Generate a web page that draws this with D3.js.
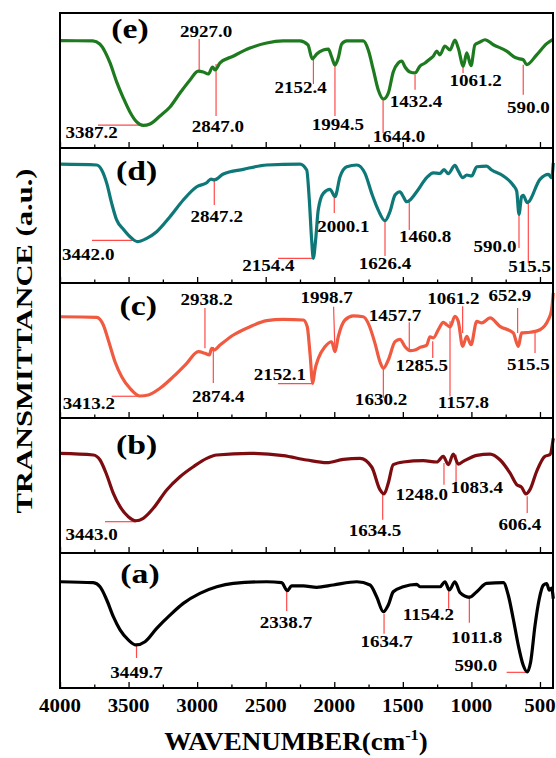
<!DOCTYPE html>
<html>
<head>
<meta charset="utf-8">
<script src="https://cdn.jsdelivr.net/npm/d3@7"></script>
<style>
body { margin: 0; background: #fff; }
</style>
</head>
<body>
<script>
var width = 556, height = 758;
var plotLeft = 60, plotRight = 553, plotTop = 13, panelH = 135;
var serif = '"Liberation Serif", "Times New Roman", serif';

// spectra, [wavenumber, transmittance in % of panel height]
var specE = [[4000,79.5],[3760,79.3],[3710,77],[3670,71],[3635,63],[3587,49],[3538,37],[3490,26.7],[3441,19.3],[3393,16.7],[3344,17.8],[3271,23.7],[3198,30.4],[3125,40.7],[3052,50.4],[2992,57],[2955,56.3],[2919,54.8],[2887,60],[2870,57.8],[2833,63],[2738,68],[2615,74],[2493,77.8],[2374,79.3],[2250,79.3],[2192,76.3],[2160,66],[2128,69.6],[2080,72.6],[2043,73.3],[2019,67.4],[1995,61.5],[1971,66.7],[1946,77],[1909,79.3],[1788,79.3],[1752,72.6],[1715,57.8],[1679,43],[1642,36.3],[1606,40.7],[1570,56.3],[1533,63],[1508,64.4],[1484,60],[1448,56.3],[1411,55.6],[1375,60.7],[1338,63],[1302,66],[1278,68],[1253,71.8],[1230,69],[1193,75.5],[1156,72.6],[1120,80],[1096,74],[1059,60.7],[1034,70.4],[1003,61],[974,76.5],[937,78.5],[901,80.2],[840,76.5],[743,71.8],[680,67],[646,66],[622,65.4],[597,61.7],[524,69],[451,77.3],[405,80.5]];
var specD = [[4000,88],[3732,87.4],[3696,83.7],[3659,73.8],[3623,59],[3587,46.7],[3538,39.8],[3477,33.1],[3436,30.6],[3368,33.1],[3295,38],[3198,49.1],[3101,61.5],[3003,71.3],[2930,74.3],[2899,77],[2875,76.3],[2809,80.7],[2663,84.2],[2493,87.4],[2250,88.1],[2201,83.7],[2182,61.5],[2165,31.9],[2153,18.3],[2136,31.9],[2117,54],[2080,66.4],[2031,69.4],[1995,64],[1958,78.7],[1909,86.1],[1836,87.4],[1776,81.2],[1727,66.4],[1679,54],[1630,46.1],[1594,52.8],[1557,65.2],[1521,67.6],[1497,64],[1472,60.2],[1448,61.5],[1399,67.6],[1326,78],[1278,81.6],[1229,81.2],[1200,84],[1169,81],[1120,87.1],[1096,83],[1063,78],[1034,80],[998,79.3],[961,86.1],[889,86.6],[852,83.7],[767,79.3],[695,72.4],[670,68.1],[653,50.9],[634,64],[622,65],[593,59.5],[500,76.8],[439,80.5],[415,78],[403,89]];
var specC = [[4000,75],[3732,74.6],[3684,68.9],[3648,57.8],[3599,41.7],[3550,30.6],[3490,22],[3417,16.3],[3356,17],[3271,22],[3174,30.6],[3076,40.5],[2992,49.1],[2943,47.9],[2911,46.7],[2894,51.6],[2877,50.4],[2833,54],[2736,61.5],[2615,67.6],[2493,72.1],[2372,73.1],[2226,72.6],[2197,67.6],[2177,47.9],[2157,25.7],[2141,35.6],[2116,44.2],[2068,52.8],[2019,56.5],[1995,49.1],[1971,60.2],[1922,72.6],[1861,75.6],[1788,75],[1752,70.1],[1703,55.3],[1667,41.7],[1642,36.8],[1606,43],[1557,56.5],[1521,58.3],[1484,52.8],[1448,49.9],[1411,50.4],[1375,52.3],[1326,54],[1302,60.2],[1278,59.3],[1241,65.4],[1205,70.9],[1180,69.1],[1156,67.4],[1120,75.3],[1096,71.6],[1064,53.1],[1034,60.5],[1003,54.3],[961,71.6],[925,70.4],[864,74.1],[792,67.9],[695,63],[658,53.1],[634,63],[573,63.5],[500,65.4],[439,72.8],[415,80.2],[403,92.6]];
var specB = [[4000,73.8],[3757,72.6],[3708,68.9],[3659,57.8],[3611,44.2],[3562,34.3],[3502,26.9],[3446,23.9],[3393,25.7],[3320,33.1],[3222,46.7],[3125,56.5],[3028,63.9],[2930,70.1],[2857,72.6],[2615,73.8],[2372,72.1],[2201,68.9],[2055,66.9],[1934,69.4],[1812,70.1],[1727,63.7],[1667,46.9],[1637,43.7],[1606,51.9],[1570,65.4],[1497,67.4],[1351,68.4],[1253,67.4],[1205,71.6],[1168,65.4],[1132,73.3],[1096,65.9],[1059,67.9],[961,72.3],[864,73.3],[792,69.1],[719,59.3],[670,50.7],[634,48.7],[602,43.7],[573,46.9],[524,60.5],[464,71.6],[427,72.8],[403,85]];
var specA = [[4000,78.7],[3757,78],[3708,75],[3659,65.2],[3611,52.8],[3562,43],[3502,35.6],[3446,31.9],[3380,34.3],[3295,44.2],[3198,54],[3101,62.7],[2980,70.1],[2857,75],[2736,77.5],[2493,78.7],[2384,78],[2343,72.1],[2311,75.6],[2226,75.6],[2128,74.6],[2007,76.3],[1836,78.7],[1739,76.3],[1691,67.6],[1642,56.5],[1606,61.5],[1570,71.3],[1497,75],[1399,76.8],[1375,75],[1229,75],[1193,78.7],[1161,72.6],[1120,78.7],[1083,70.6],[1015,67.2],[961,71.3],[889,77.5],[767,78],[731,68.7],[695,51.3],[658,31.6],[622,16.8],[593,11.9],[568,19.3],[536,46.4],[505,66.1],[476,76.1],[451,77.3],[432,72.4],[415,74],[403,66.1]];

// peak labels: [text, x1, y1, x2, y2, textX, textY] in wavenumber / % units
var peaksE = [['2927.0',2985,80.7,2985,57.8,2935,82.4],['2847.0',2862,62.2,2862,23.7,2848,12.1],['2152.4',2152,66.7,2152,47.4,2245,41],['1994.5',1995,60.7,1995,23.7,1973,13.6],['1644.0',1644,35.6,1644,11.1,1528,4.8],['1432.4',1411,54.3,1411,43.2,1404,30.4],['1061.2',1061,60.7,1061,55.6,969,45.7],['590.0',622,61.7,622,39.5,585,25.9],['3387.2',3723,17,3404,17,3769,7.2]];
var peaksD = [['2847.2',2875,77.8,2875,57.8,2857,45.4],['3442.0',3767,31.6,3446,31.6,3794,17],['2154.4',2410,18.3,2155,18.3,2481,9.1],['2000.1',2000,63.7,2000,51.9,1934,38],['1626.4',1630,45.9,1630,20,1630,10.1],['1460.8',1453,60.7,1453,39.3,1338,30.6],['590.0',653,51.1,653,25.9,828,23.2],['515.5',585,59.5,585,14.8,576,8.1]];
var peaksC = [['2938.2',2943,81.5,2943,51.6,2930,83.7],['2874.4',2882,52.6,2882,25.9,2846,12.1],['3413.2',3623,16.1,3395,16.1,3789,6.7],['2152.1',2410,25.4,2153,25.4,2396,28.1],['1998.7',2005,82.4,1995,49.1,2055,85],['1630.2',1642,37,1642,14.8,1659,9.3],['1457.7',1453,70.9,1453,50.6,1557,71.6],['1285.5',1282,56.8,1282,44.4,1362,34.6],['1157.8',1156,71.6,1156,16.1,1059,7.4],['1061.2',1064,82.7,1064,63,1132,84.7],['652.9',663,81.5,663,63,719,86.4],['515.5',536,64.2,536,48.1,585,35.3]];
var peaksB = [['3443.0',3672,23.2,3446,23.2,3769,9.6],['1634.5',1647,43.7,1647,24.7,1703,12.4],['1248.0',1200,66.7,1200,50.6,1362,39.5],['1083.4',1112,72.8,1112,51.9,961,44.4],['606.4',593,42,593,29.6,646,17.3]];
var peaksA = [['2338.7',2347,72.1,2347,57,2352,44.2],['1634.7',1637,55,1637,40.2,1618,30.4],['1154.2',1166,73.6,1166,58.7,1314,50.1],['1011.8',1015,68.7,1015,48.4,961,33.6],['590.0',743,11.6,595,11.6,967,12.4],['3449.7',3442,31.1,3442,22.2,3442,7.4]];

var panelNames = ['(e)', '(d)', '(c)', '(b)', '(a)'];
var nameSpots = [[3490,82.2],[3441,76.8],[3429,77],[3441,73.8],[3417,78.7]];
var colors = ['#1e7a1e', '#0e7878', '#f05a40', '#7c0c10', '#000000'];
var majorTicks = [4000, 3500, 3000, 2500, 2000, 1500, 1000, 500];
var minorTicks = [3750, 3250, 2750, 2250, 1750, 1250, 750];

var spectra = [specE, specD, specC, specB, specA];
var peaks = [peaksE, peaksD, peaksC, peaksB, peaksA];

var svg = d3.select('body').append('svg').attr('width', width).attr('height', height);
var xScale = d3.scaleLinear().domain([4000, 405]).range([plotLeft, plotRight]);

function label(g, x, y, str, size, sx) {
	g.append('text')
		.attr('transform', 'translate(' + x + ',' + y + ') scale(' + sx + ',1)')
		.attr('text-anchor', 'middle')
		.style('font-family', serif).style('font-weight', 'bold').style('font-size', size + 'px')
		.text(str);
}

spectra.forEach(function(spec, i) {
	var y0 = plotTop + i * panelH;
	var yScale = d3.scaleLinear().domain([0, 100]).range([y0 + panelH, y0]);
	var g = svg.append('g').attr('class', 'panel');

	// inward ticks on the bottom edge of each panel
	var major = g.append('g').attr('transform', 'translate(0,' + (y0 + panelH) + ')')
		.call(d3.axisBottom(xScale).tickValues(majorTicks).tickSize(-6).tickFormat(''));
	var minor = g.append('g').attr('transform', 'translate(0,' + (y0 + panelH) + ')')
		.call(d3.axisBottom(xScale).tickValues(minorTicks).tickSize(-3.5).tickFormat(''));
	[major, minor].forEach(function(a) {
		a.select('.domain').remove();
		a.selectAll('line').attr('stroke', '#000').attr('stroke-width', 1.3);
	});

	// red marker lines
	g.selectAll('.mark').data(peaks[i]).enter().append('line')
		.attr('class', 'mark')
		.attr('x1', d => xScale(d[1])).attr('y1', d => yScale(d[2]))
		.attr('x2', d => xScale(d[3])).attr('y2', d => yScale(d[4]))
		.attr('stroke', '#ff4a4a').attr('stroke-width', 1.2);

	var line = d3.line()
		.x(d => xScale(d[0]))
		.y(d => yScale(d[1]))
		.curve(d3.curveMonotoneX);
	g.append('path').datum(spec)
		.attr('d', line)
		.attr('fill', 'none')
		.attr('stroke', colors[i])
		.attr('stroke-width', 3.2)
		.attr('stroke-linejoin', 'round');

	peaks[i].forEach(function(d) {
		label(g, xScale(d[5]), yScale(d[6]), d[0], 17, 1.12);
	});
	label(g, xScale(nameSpots[i][0]), yScale(nameSpots[i][1]) + 1, panelNames[i], 27, 1.25);
});

// frame and panel separators
svg.append('rect')
	.attr('x', plotLeft).attr('y', plotTop)
	.attr('width', plotRight - plotLeft).attr('height', panelH * 5)
	.attr('fill', 'none').attr('stroke', '#000').attr('stroke-width', 2);
d3.range(1, 5).forEach(function(k) {
	svg.append('line')
		.attr('x1', plotLeft).attr('x2', plotRight)
		.attr('y1', plotTop + k * panelH).attr('y2', plotTop + k * panelH)
		.attr('stroke', '#000').attr('stroke-width', 2);
});

// x tick labels
majorTicks.forEach(function(t) {
	label(svg, xScale(t), 712, t, 19, 1.1);
});

// axis titles
var xt = svg.append('text')
	.attr('transform', 'translate(296,750) scale(1.08,1)')
	.attr('text-anchor', 'middle')
	.style('font-family', serif).style('font-weight', 'bold').style('font-size', '25px');
xt.append('tspan').text('WAVENUMBER(cm');
xt.append('tspan').attr('dy', -10).style('font-size', '15px').text('-1');
xt.append('tspan').attr('dy', 10).text(')');

svg.append('text')
	.attr('transform', 'translate(32,341) rotate(-90)')
	.attr('text-anchor', 'middle')
	.attr('textLength', 345).attr('lengthAdjust', 'spacingAndGlyphs')
	.style('font-family', serif).style('font-weight', 'bold').style('font-size', '24px')
	.text('TRANSMITTANCE (a.u.)');
</script>
</body>
</html>
